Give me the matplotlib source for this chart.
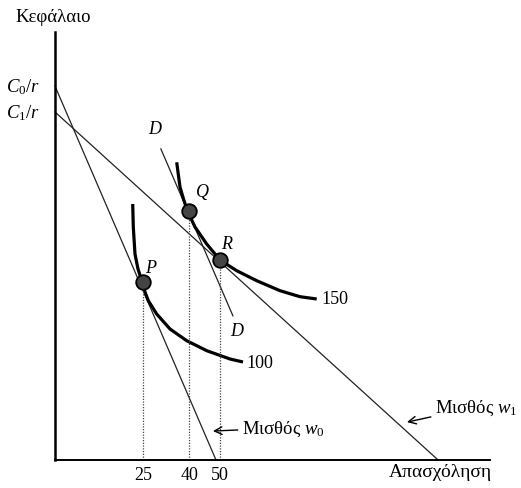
import numpy as np
import matplotlib
matplotlib.use('Agg')
import matplotlib.pyplot as plt

plt.rcParams['font.family'] = ['Liberation Serif', 'DejaVu Serif']
plt.rcParams['mathtext.fontset'] = 'custom'
plt.rcParams['mathtext.rm'] = 'Liberation Serif'
plt.rcParams['mathtext.it'] = 'Liberation Serif:italic'

# Απασχόληση (L) και Κεφάλαιο (K), σε αυθαίρετες μονάδες του σχήματος
ticks_L = [25, 40, 50]

# ευθείες ισοκόστους
w0_L = [-3.57, 48.7]
w0_K = [121.4, 0.0]
w1_L = [-3.57, 120.8]
w1_K = [113.0, 0.0]

# ευθεία D (παράλληλη προς w0, από το Q)
D_L = [30.8, 54.2]
D_K = [101.0, 46.8]

# καμπύλες ισοποσότητας
iso100_L = [21.66, 21.85, 22.40, 23.38, 24.77, 25.65, 26.72, 29.45, 33.77, 39.19, 45.68, 53.25, 57.47]
iso100_K = [83.12, 75.65, 66.88, 62.01, 57.66, 54.55, 51.72, 47.40, 42.53, 38.73, 35.49, 32.79, 31.82]
iso150_L = [35.94, 37.01, 38.15, 39.38, 41.88, 45.68, 50.0, 55.42, 61.92, 69.48, 75.97, 81.40]
iso150_K = [96.66, 88.64, 84.74, 80.94, 75.65, 70.13, 64.94, 61.46, 58.21, 54.97, 53.02, 52.27]

# σημεία ισορροπίας
pts_name = ['P', 'Q', 'R']
pts_L = [25, 40, 50]
pts_K = [57.8, 81.0, 64.9]

fig = plt.figure(figsize=(5.21, 4.89), dpi=100)
ax = fig.add_axes([55 / 521, 28 / 489, 435 / 521, 428 / 489])
ax.set_xlim(-3.57, 137.66)
ax.set_ylim(0, 138.96)
for s in ['top', 'right']:
    ax.spines[s].set_visible(False)
ax.spines['left'].set_linewidth(1.8)
ax.spines['bottom'].set_linewidth(1.4)
ax.set_yticks([])
ax.set_xticks(ticks_L)
ax.set_xticklabels([str(t) for t in ticks_L], fontsize=13)
ax.tick_params(axis='x', length=0, pad=4)

ax.plot(w0_L, w0_K, color='#222222', lw=0.9, clip_on=False)
ax.plot(w1_L, w1_K, color='#222222', lw=0.9, clip_on=False)
ax.plot(D_L, D_K, color='#222222', lw=0.9)

ax.plot(iso100_L, iso100_K, color='black', lw=2.3, solid_capstyle='butt', solid_joinstyle='round')
ax.plot(iso150_L, iso150_K, color='black', lw=2.3, solid_capstyle='butt', solid_joinstyle='round')

for L, K in zip(pts_L, pts_K):
    ax.plot([L, L], [0, K], color='#444444', lw=0.9, ls=(0, (1, 1.2)))
ax.plot(pts_L, pts_K, 'o', ms=10.5, mfc='#444444', mec='black', mew=1.3, ls='none', zorder=5)

# ετικέτες σημείων
for name, L, K, dx, dy in zip(pts_name, pts_L, pts_K, [2.4, 4.4, 2.3], [4.8, 6.3, 5.4]):
    ax.text(L + dx, K + dy, name, fontsize=13, style='italic', ha='center', va='center')
ax.text(28.9, 107.5, 'D', fontsize=13, style='italic', ha='center', va='center')
ax.text(55.5, 41.9, 'D', fontsize=13, style='italic', ha='center', va='center')
ax.text(83.0, 52.3, '150', fontsize=13, ha='left', va='center')
ax.text(58.6, 31.8, '100', fontsize=13, ha='left', va='center')

ax.text(-8.5, 121.4, '$C_0/r$', fontsize=13.5, ha='right', va='center', clip_on=False)
ax.text(-8.5, 113.0, '$C_1/r$', fontsize=13.5, ha='right', va='center', clip_on=False)

ax.annotate('Μισθός $w_0$', xy=(47.7, 9.4), xytext=(57.1, 10.4),
            fontsize=13.5, ha='left', va='center',
            arrowprops=dict(arrowstyle='->', lw=1.0, color='black', shrinkA=1, shrinkB=0))
ax.annotate('Μισθός $w_1$', xy=(110.7, 12.3), xytext=(119.8, 17.2),
            fontsize=13.5, ha='left', va='center', annotation_clip=False,
            arrowprops=dict(arrowstyle='->', lw=1.0, color='black', shrinkA=1, shrinkB=0))

fig.text(15 / 521, 1 - 17 / 489, 'Κεφάλαιο', fontsize=13.5, ha='left', va='center')
fig.text(492 / 521, 1 - 473 / 489, 'Απασχόληση', fontsize=14, ha='right', va='center')

fig.savefig('out.png', dpi=100, facecolor='white')
